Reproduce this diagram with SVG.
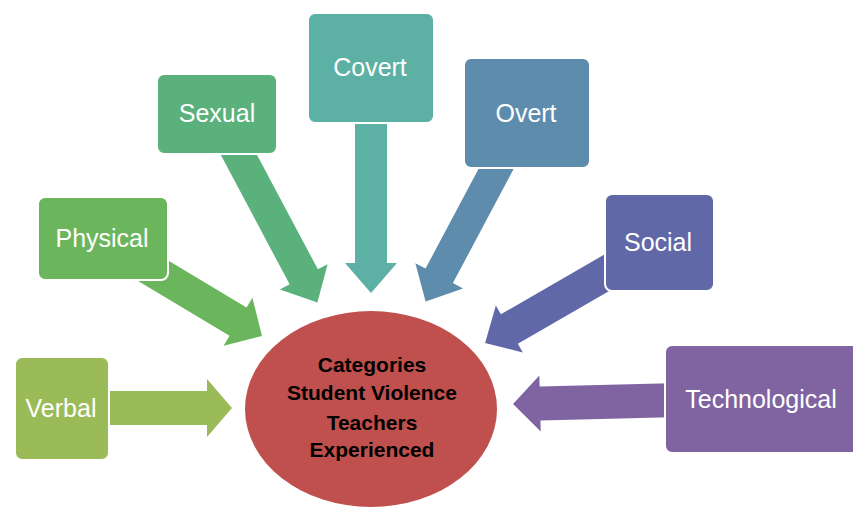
<svg xmlns="http://www.w3.org/2000/svg" width="853" height="508" viewBox="0 0 853 508">
<style>
.box{stroke:#fff;stroke-width:2}
.lbl{font-family:"Liberation Sans",Arial,sans-serif;font-size:25px;fill:#fff;text-anchor:middle}
.ctr{font-family:"Liberation Sans",Arial,sans-serif;font-size:21px;font-weight:bold;fill:#000;text-anchor:middle}
</style>
<rect width="853" height="508" fill="#fff"/>
<g id="connectors">
<path fill="#9BBB59" transform="translate(100,408)" d="M0,-17 H107 V-29 L132,0 L107,29 V17 H0 Z"/>
<path fill="#6BB65D" transform="translate(142,264) rotate(31)" d="M0,-16.5 H112 V-28 L140,0 L112,28 V16.5 H0 Z"/>
<path fill="#5AB17B" transform="translate(231,140) rotate(62)" d="M0,-16 H155 V-27 L184,0 L155,27 V16 H0 Z"/>
<path fill="#5DB0A4" transform="translate(371,110) rotate(90)" d="M0,-16 H153 V-26 L183,0 L153,26 V16 H0 Z"/>
<path fill="#5E8CAC" transform="translate(504,154) rotate(118)" d="M0,-15.5 H138 V-27 L167,0 L138,27 V15.5 H0 Z"/>
<path fill="#6168A8" transform="translate(615,268) rotate(150)" d="M0,-17 H122 V-27 L150,0 L122,27 V17 H0 Z"/>
<path fill="#8064A2" transform="translate(680,400) rotate(178.6)" d="M0,-17 H140 V-28 L167,0 L140,28 V17 H0 Z"/>
</g>
<g id="center">
<ellipse cx="371" cy="409" rx="126" ry="98" fill="#C0504D"/>
<text class="ctr" x="372" y="372">Categories</text>
<text class="ctr" x="372" y="400">Student Violence</text>
<text class="ctr" x="372" y="430">Teachers</text>
<text class="ctr" x="372" y="457">Experienced</text>
</g>
<g id="verbal">
<rect class="box" x="15" y="357" width="94" height="103" rx="7" fill="#9BBB59"/>
<text class="lbl" x="61" y="417">Verbal</text>
</g>
<g id="physical">
<rect class="box" x="38" y="197" width="130" height="83" rx="7" fill="#6BB65D"/>
<text class="lbl" x="102" y="247">Physical</text>
</g>
<g id="sexual">
<rect class="box" x="157" y="74" width="120" height="80" rx="7" fill="#5AB17B"/>
<text class="lbl" x="217" y="122">Sexual</text>
</g>
<g id="covert">
<rect class="box" x="308" y="13" width="126" height="110" rx="7" fill="#5DB0A4"/>
<text class="lbl" x="370" y="76">Covert</text>
</g>
<g id="overt">
<rect class="box" x="464" y="58" width="126" height="110" rx="7" fill="#5E8CAC"/>
<text class="lbl" x="526" y="122">Overt</text>
</g>
<g id="social">
<rect class="box" x="605" y="194" width="109" height="97" rx="7" fill="#6168A8"/>
<text class="lbl" x="658" y="251">Social</text>
</g>
<g id="technological">
<rect class="box" x="665" y="345" width="196" height="108" rx="7" fill="#8064A2"/>
<text class="lbl" x="761" y="408">Technological</text>
</g>
</svg>
